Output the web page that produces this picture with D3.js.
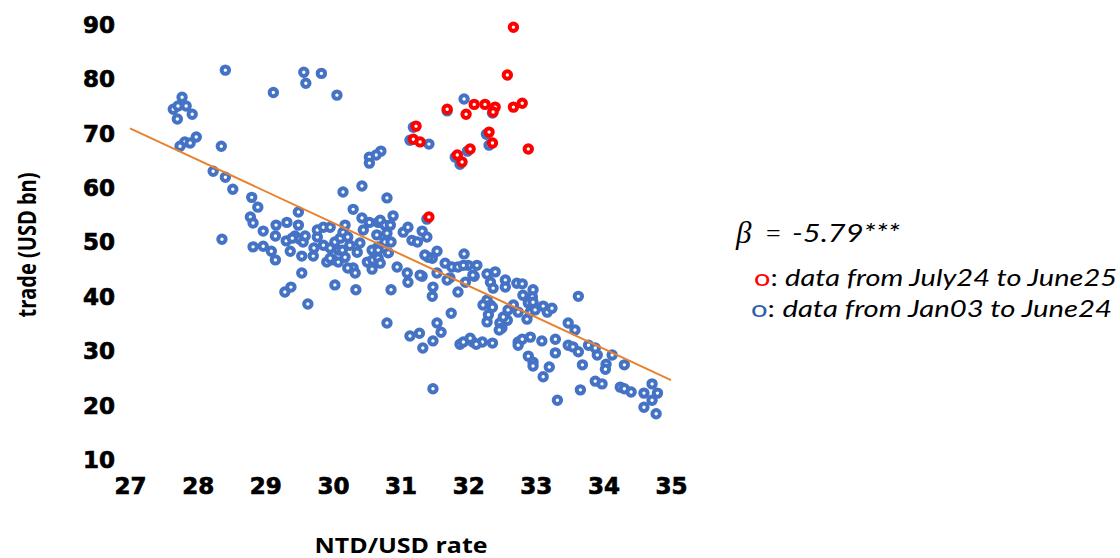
<!DOCTYPE html>
<html>
<head>
<meta charset="utf-8">
<script src="https://cdn.jsdelivr.net/npm/d3@7"></script>
<style>
html,body{margin:0;padding:0;background:#fff;}
svg{display:block;}
</style>
</head>
<body>
<svg id="chart" width="1120" height="558"></svg>
<script>
// ---- data ----
const xTicks = [27, 28, 29, 30, 31, 32, 33, 34, 35];
const yTicks = [10, 20, 30, 40, 50, 60, 70, 80, 90];

// Jan03 - June24 (blue)
const blueRate = [
28.41,27.77,27.64,27.71,27.83,27.92,27.70,27.98,27.81,27.89,27.74,28.35,28.23,28.41,28.52,28.80,
29.12,29.57,29.60,29.83,30.06,30.71,30.64,30.54,30.54,30.43,30.15,30.80,
31.94,31.69,31.19,31.14,31.42,31.81,31.88,31.99,32.27,32.31,32.36,31.39,30.89,
28.89,28.78,28.82,28.97,29.15,29.16,29.32,29.49,29.49,28.36,28.82,28.97,29.09,29.15,29.31,29.37,
29.44,29.51,29.56,29.54,29.54,29.71,29.72,29.77,29.77,29.86,29.96,29.86,29.96,30.03,29.91,30.00,
30.08,30.11,30.15,30.18,30.30,30.43,30.54,30.45,30.67,30.65,30.22,30.25,30.14,30.18,30.36,30.40,
30.58,30.51,30.59,30.67,30.58,30.30,30.22,30.33,30.03,30.34,29.29,29.38,29.63,30.67,30.70,30.77,
30.85,30.80,30.77,30.86,31.04,31.11,31.32,31.17,31.25,31.39,30.67,30.82,30.70,30.95,31.10,31.11,
31.32,30.86,31.54,31.47,31.41,31.66,31.76,31.85,31.94,32.00,32.13,31.54,31.73,31.69,31.96,32.09,
32.28,32.40,32.33,32.37,32.55,32.55,32.72,32.80,31.48,31.47,31.85,32.28,32.22,32.33,32.67,32.81,
32.96,32.95,32.89,32.96,33.63,32.59,32.28,32.36,32.30,32.47,32.50,32.58,32.52,32.74,32.87,32.92,
32.99,33.11,33.17,33.24,33.48,33.58,32.21,32.36,32.07,32.74,32.80,32.92,33.09,33.29,33.29,32.89,
32.96,32.96,33.20,33.11,33.32,33.48,33.55,33.63,33.78,33.91,34.13,33.88,33.69,34.04,34.03,34.31,
32.46,33.66,33.88,33.98,34.25,34.31,34.41,34.72,34.60,34.80,34.72,34.60,34.78,31.48,30.80,31.14,
31.28,31.33,31.48,31.54,31.60,31.75,31.88,31.93,32.03,32.12,31.29,32.07,31.93,32.74,
29.40,29.59,29.96,30.08,31.36
];
const blueTrade = [
81.7,76.7,74.5,75.1,75.1,73.6,72.7,69.4,68.5,68.3,67.7,67.7,63.1,62.0,59.8,58.3,
77.6,81.3,79.3,81.1,77.1,66.8,66.1,65.7,64.6,60.4,59.3,58.2,
76.4,74.2,71.2,68.8,68.1,65.7,64.4,66.8,69.9,67.9,73.8,54.3,54.9,
56.5,54.7,53.6,52.1,51.2,53.2,53.7,55.6,53.2,50.6,49.2,49.3,48.4,46.8,50.3,48.4,
51.2,50.6,50.1,47.5,44.4,47.5,49.0,51.0,52.3,52.8,52.8,49.5,49.0,50.1,46.4,46.8,
48.6,50.8,51.9,53.2,56.1,54.5,53.7,52.3,53.7,51.4,51.0,49.5,48.6,47.3,48.2,49.9,
48.6,46.4,46.8,47.1,45.1,45.3,45.3,44.4,42.2,41.3,40.9,41.8,38.7,49.2,54.1,53.2,
53.2,51.7,50.1,50.1,51.9,52.8,52.1,50.4,50.1,51.0,48.6,48.1,46.2,45.5,44.4,42.7,
43.8,41.3,48.4,47.1,47.3,46.2,45.5,45.5,47.9,45.8,45.8,44.4,43.5,43.1,42.7,43.8,
44.2,44.6,42.7,41.6,43.1,41.8,42.5,42.4,41.8,40.1,40.9,39.4,38.5,38.5,38.5,40.3,
41.3,40.0,38.9,39.0,40.1,37.6,35.4,38.1,36.7,35.2,34.3,35.7,36.3,37.2,35.9,37.2,
37.6,38.3,37.2,37.9,35.2,33.9,31.7,31.5,31.7,31.7,32.2,32.6,31.9,32.2,29.7,29.1,
28.0,27.3,27.1,25.3,21.0,31.1,30.8,29.9,31.1,29.3,29.3,30.6,27.5,27.6,26.7,27.5,
33.9,22.9,24.5,24.0,23.4,23.1,22.5,24.0,22.3,22.3,21.0,19.7,18.5,23.1,35.2,32.8,
33.3,30.6,31.9,35.2,33.5,37.0,31.3,31.7,32.4,31.3,44.0,44.0,45.8,31.1,
50.8,51.2,47.1,46.4,47.7
];

// July24 - June25 (red)
const redRate  = [32.67,32.58,32.09,32.25,32.40,32.37,32.67,32.80,31.97,31.69,31.23,31.19,31.29,32.31,32.36,32.03,31.84,31.91,32.89,31.42];
const redTrade = [89.6, 80.8, 75.4, 75.4, 74.9, 74.0, 74.9, 75.6, 73.6, 74.5, 71.4, 69.0, 68.5, 70.3, 68.3, 67.2, 66.1, 64.8, 67.2, 54.7];

// fitted line (beta = -5.79)
const trendRate  = [27, 35];
const trendTrade = [71.0, 24.7];

const betaText = "-5.79***";
const legendRed = "data from July24 to June25";
const legendBlue = "data from Jan03 to June24";

// ---- drawing ----
const svg = d3.select("#chart");
const x = d3.scaleLinear().domain([27, 35]).range([130, 671]);
const y = d3.scaleLinear().domain([10, 90]).range([460, 25]);

const tickFont = "'DejaVu Sans', Verdana, sans-serif";

const gx = svg.append("g").attr("transform", `translate(0,${y(10)})`)
  .call(d3.axisBottom(x).tickValues(xTicks).tickFormat(d3.format("d")).tickSize(0).tickPadding(18));
gx.select(".domain").remove();
gx.selectAll("text").attr("font-family", tickFont).attr("font-weight", "bold")
  .attr("font-size", 23).attr("fill", "#000").attr("stroke", "#000").attr("stroke-width", 0.7);

const gy = svg.append("g").attr("transform", `translate(${x(27)},0)`)
  .call(d3.axisLeft(y).tickValues(yTicks).tickFormat(d3.format("d")).tickSize(0).tickPadding(15));
gy.select(".domain").remove();
gy.selectAll("text").attr("font-family", tickFont).attr("font-weight", "bold")
  .attr("font-size", 23).attr("fill", "#000").attr("stroke", "#000").attr("stroke-width", 0.7);

const blue = blueRate.map((r, i) => ({r, t: blueTrade[i]}));
const red = redRate.map((r, i) => ({r, t: redTrade[i]}));

svg.append("g").selectAll("circle").data(blue).join("circle")
  .attr("cx", d => x(d.r)).attr("cy", d => y(d.t)).attr("r", 3.7)
  .attr("fill", "#fff").attr("stroke", "#4472C4").attr("stroke-width", 4);

// trend line
svg.append("line")
  .attr("x1", x(trendRate[0])).attr("y1", y(trendTrade[0]))
  .attr("x2", x(trendRate[1])).attr("y2", y(trendTrade[1]))
  .attr("stroke", "#E8822F").attr("stroke-width", 2);

svg.append("g").selectAll("circle").data(red).join("circle")
  .attr("cx", d => x(d.r)).attr("cy", d => y(d.t)).attr("r", 3.7)
  .attr("fill", "#fff").attr("stroke", "#FF0000").attr("stroke-width", 4);

// axis titles
svg.append("text").text("NTD/USD rate")
  .attr("x", 401).attr("y", 553).attr("text-anchor", "middle")
  .attr("font-family", "'Open Sans', sans-serif").attr("font-weight", 700)
  .attr("font-size", 21).attr("fill", "#000")
  .attr("textLength", 173).attr("lengthAdjust", "spacingAndGlyphs");

svg.append("text").text("trade (USD bn)")
  .attr("transform", "translate(36,245) rotate(-90)").attr("text-anchor", "middle")
  .attr("font-family", "'Open Sans', sans-serif").attr("font-weight", 700)
  .attr("font-size", 25).attr("fill", "#000")
  .attr("textLength", 145).attr("lengthAdjust", "spacingAndGlyphs");

// beta annotation
svg.append("text").text("β")
  .attr("x", 736).attr("y", 243)
  .attr("font-family", "'Liberation Serif', 'DejaVu Serif', serif").attr("font-style", "italic")
  .attr("font-size", 31).attr("fill", "#000");
svg.append("text").text("=")
  .attr("x", 766).attr("y", 242)
  .attr("font-family", "'Liberation Serif', serif")
  .attr("font-size", 26).attr("fill", "#000");
svg.append("text").text(betaText)
  .attr("x", 792).attr("y", 242)
  .attr("font-family", "Lato, 'Open Sans', sans-serif").attr("font-style", "italic")
  .attr("font-size", 25).attr("fill", "#000")
  .attr("textLength", 108).attr("lengthAdjust", "spacingAndGlyphs");

function legendLine(yb, x0, color, label, width) {
  const t = svg.append("text").attr("x", x0).attr("y", yb)
    .attr("font-family", "Lato, 'Open Sans', sans-serif")
    .attr("font-size", 24).attr("fill", "#000");
  t.append("tspan").text("o").attr("fill", color);
  t.append("tspan").text(": ");
  t.append("tspan").text(label).attr("font-style", "italic");
  t.attr("textLength", width).attr("lengthAdjust", "spacingAndGlyphs");
}
legendLine(286, 754, "#FF0000", legendRed, 363);
legendLine(317, 751, "#2E5FA8", legendBlue, 361);
</script>
</body>
</html>
